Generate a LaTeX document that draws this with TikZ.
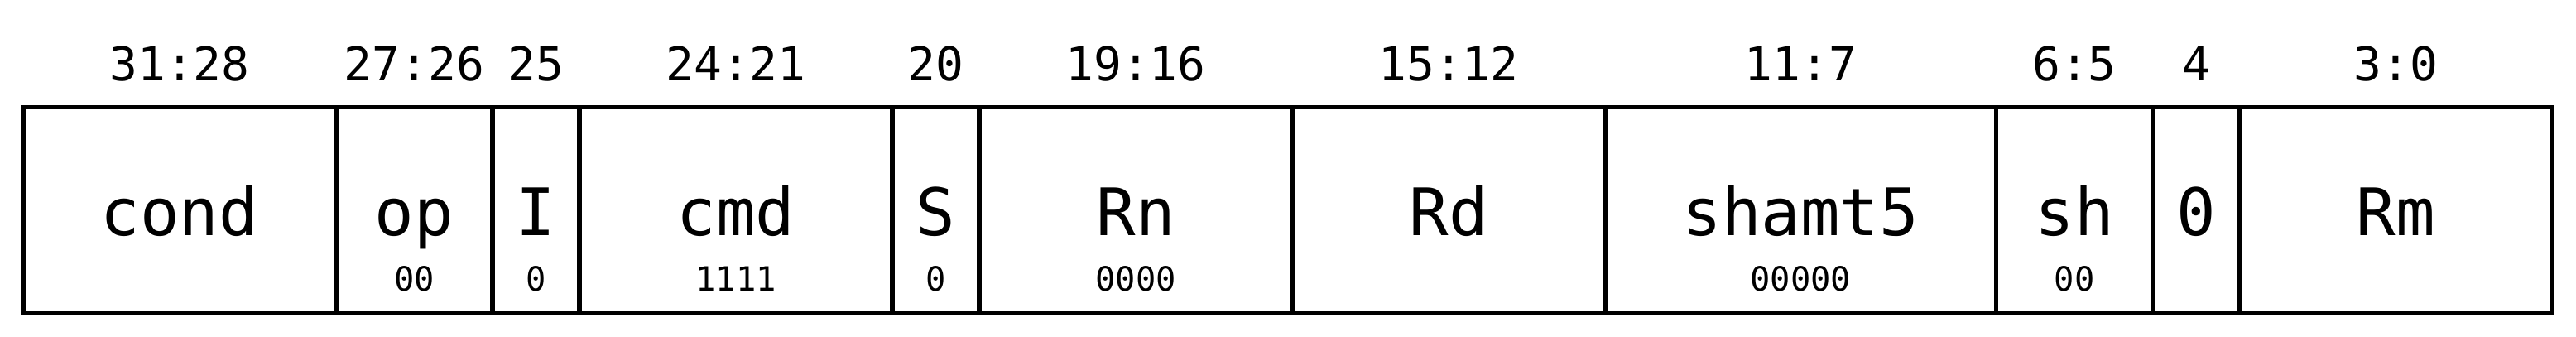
\documentclass[tikz,border=0pt]{standalone}
\usepackage{fontspec}
\setmonofont{DejaVu Sans Mono}

\begin{document}
\begin{tikzpicture}[
    fieldbox/.style={line width=1.5pt},
    fieldname/.style={anchor=base,font=\ttfamily\fontsize{22.5}{24}\selectfont},
    bitrange/.style={anchor=base,font=\ttfamily\fontsize{16}{18}\selectfont},
    fieldval/.style={anchor=base,font=\ttfamily\fontsize{11.5}{12}\selectfont}]
    \useasboundingbox (0,0) rectangle (31.12,4.06);
    % one box per field: left/right edge, name, bit range, fixed value
    \foreach \l/\r/\nm/\bits/\val in {0.28/4.06/cond/31:28/{},
        4.06/5.95/op/27:26/00, 5.95/7.00/I/25/0, 7.00/10.78/cmd/24:21/1111,
        10.78/11.83/S/20/0, 11.83/15.61/Rn/19:16/0000, 15.61/19.39/Rd/15:12/{},
        19.39/24.115/shamt5/11:7/00000, 24.115/26.005/sh/6:5/00,
        26.005/27.055/0/4/{}, 27.055/30.835/Rm/3:0/{}}{
      \draw[fieldbox] (\l,0.28) rectangle (\r,2.765);
      \node[bitrange] (b-\nm) at ({(\l+\r)/2},3.09) {\bits};
      \node[fieldname] (n-\nm) at ({(\l+\r)/2},1.22) {\nm};
      \node[fieldval] (v-\nm) at ({(\l+\r)/2},0.543) {\val};
    }
\end{tikzpicture}
\end{document}
